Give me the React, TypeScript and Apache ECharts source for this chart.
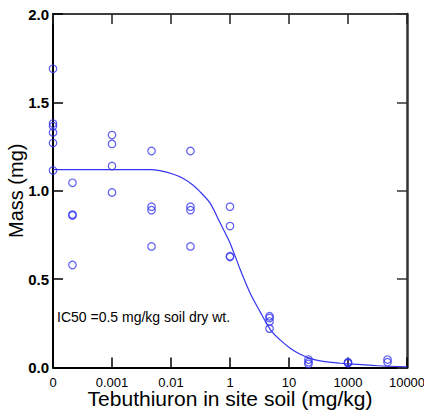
import React, { useEffect, useRef } from "react";
import * as echarts from "echarts";

// x-axis tick labels (equally spaced positions 0..6)
const doseLabels = ["0", "0.001", "0.01", "1", "10", "1000", "10000"];

// x position (in axis units) of each dose group
const groupX = [0, 0.33, 1, 1.67, 2.33, 3, 3.67, 4.33, 5, 5.67];

// measured masses (mg) in each group
const groupValues = [
  [1.69, 1.38, 1.365, 1.33, 1.27, 1.115],
  [1.045, 0.865, 0.86, 0.58],
  [1.315, 1.265, 1.14, 0.99],
  [1.225, 0.91, 0.89, 0.685],
  [1.225, 0.91, 0.89, 0.685],
  [0.91, 0.8, 0.63, 0.625],
  [0.29, 0.28, 0.26, 0.22],
  [0.045, 0.03, 0.02],
  [0.03, 0.025, 0.025],
  [0.045, 0.03],
];

// fitted dose-response curve
const curveX = [0, 1.0, 1.64, 1.81, 2.03, 2.2, 2.37, 2.49, 2.66, 2.83, 3.0, 3.17, 3.34, 3.51, 3.69, 3.85, 4.02, 4.19, 4.36, 4.53, 4.86, 5.0, 5.5, 6.0];
const curveY = [1.12, 1.12, 1.12, 1.114, 1.095, 1.071, 1.033, 0.995, 0.931, 0.82, 0.705, 0.557, 0.422, 0.316, 0.212, 0.156, 0.109, 0.075, 0.052, 0.038, 0.024, 0.02, 0.01, 0.004];

const FONT = "'Liberation Sans', Arial, sans-serif";
const BLUE = "#3535f0";

export default function App() {
  const ref = useRef<HTMLDivElement>(null);

  useEffect(() => {
    const c = echarts.init(ref.current!, undefined, { renderer: "svg" });

    const scatterData: number[][] = [];
    groupX.forEach((x, i) => {
      groupValues[i].forEach((v) => scatterData.push([x, v]));
    });
    const lineData = curveX.map((x, i) => [x, curveY[i]]);

    const xBase = { type: "value", min: 0, max: doseLabels.length - 1, interval: 1, splitLine: { show: false } };
    const yBase = { type: "value", min: 0, max: 2, interval: 0.5, splitLine: { show: false } };
    const opt: any = {
      animation: false,
      backgroundColor: "#ffffff",
      textStyle: { fontFamily: FONT },
      grid: { left: 53, right: 17, top: 14, bottom: 48.5, containLabel: false, outerBoundsMode: "none" },
      xAxis: [
        { ...xBase, position: "bottom", name: "Tebuthiuron in site soil (mg/kg)", nameLocation: "middle", nameGap: 20, nameMoveOverlap: false, nameTextStyle: { fontSize: 21, color: "#000" },
          axisLine: { show: true, onZero: false, lineStyle: { color: "#000", width: 2 } }, axisTick: { show: true, inside: true, length: 10, lineStyle: { color: "#000", width: 1.5 } },
          axisLabel: { show: true, margin: 8, fontSize: 13, color: "#000", fontFamily: FONT, formatter: (v: number) => doseLabels[Math.round(v)] ?? "" } },
        { ...xBase, position: "top", axisLine: { show: true, onZero: false, lineStyle: { color: "#000", width: 1.5 } }, axisTick: { show: true, inside: true, length: 10, lineStyle: { color: "#222", width: 1.5 } }, axisLabel: { show: false } },
      ],
      yAxis: [
        { ...yBase, position: "left", name: "Mass (mg)", nameLocation: "middle", nameGap: 27, nameMoveOverlap: false, nameTextStyle: { fontSize: 20, color: "#000" },
          axisLine: { show: true, onZero: false, lineStyle: { color: "#000", width: 2 } }, axisTick: { show: true, inside: true, length: 10, lineStyle: { color: "#000", width: 1.5 } },
          axisLabel: { show: true, margin: 4, fontSize: 15, fontWeight: "bold", color: "#000", fontFamily: FONT, formatter: (v: number) => v.toFixed(1) } },
        { ...yBase, position: "right", axisLine: { show: true, onZero: false, lineStyle: { color: "#333", width: 2.5 } }, axisTick: { show: true, inside: true, length: 10, lineStyle: { color: "#333", width: 1.5 } }, axisLabel: { show: false } },
      ],
      graphic: [{ type: "text", left: 57, top: 310, style: { text: "IC50 =0.5 mg/kg soil dry wt.", fontSize: 14, fontFamily: FONT, fill: "#000" } }],
      series: [
        { type: "line", data: lineData, smooth: 0.3, showSymbol: false, symbol: "none", lineStyle: { color: BLUE, width: 1.2 }, z: 3 },
        { type: "scatter", data: scatterData, symbol: "circle", symbolSize: 7.5, clip: false, itemStyle: { color: "rgba(0,0,0,0)", borderColor: BLUE, borderWidth: 1.2 }, z: 4 },
      ],
    };
    c.setOption(opt);
    return () => c.dispose();
  }, []);

  return (
    <div style={{ position: "absolute", left: 0, top: 0, width: 424, height: 416 }}>
      <div ref={ref} style={{ width: 424, height: 416 }} />
    </div>
  );
}
